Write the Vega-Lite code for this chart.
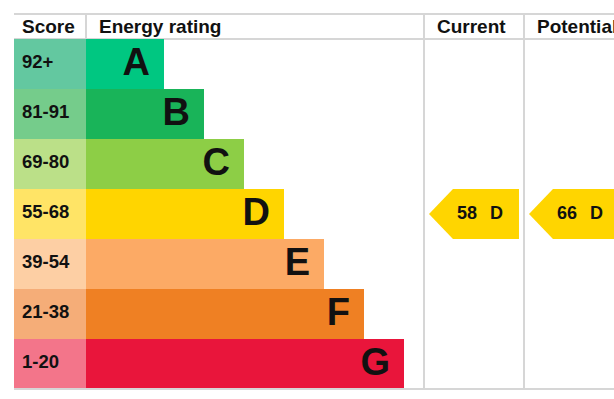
{
  "$schema": "https://vega.github.io/schema/vega-lite/v6.json",
  "autosize": {"type": "pad"},
  "bounds": "flush",
  "padding": {"left": 13, "top": 13, "right": 0, "bottom": 0},
  "background": "white",
  "spacing": 0,
  "config": {
    "view": {"stroke": null},
    "text": {"font": "Liberation Sans", "fontWeight": "bold", "color": "#111111"}
  },
  "datasets": {
    "columns": [
      {"column": "Score", "x0": 0, "x1": 72},
      {"column": "Energy rating", "x0": 72, "x1": 410},
      {"column": "Current", "x0": 410, "x1": 510, "rating": 58, "band": "D"},
      {"column": "Potential", "x0": 510, "x1": 610, "rating": 66, "band": "D"}
    ],
    "bands": [
      {"band": "A", "score": "92+", "start": 0, "split": 72, "end": 150},
      {"band": "B", "score": "81-91", "start": 0, "split": 72, "end": 190},
      {"band": "C", "score": "69-80", "start": 0, "split": 72, "end": 230},
      {"band": "D", "score": "55-68", "start": 0, "split": 72, "end": 270},
      {"band": "E", "score": "39-54", "start": 0, "split": 72, "end": 310},
      {"band": "F", "score": "21-38", "start": 0, "split": 72, "end": 350},
      {"band": "G", "score": "1-20", "start": 0, "split": 72, "end": 390}
    ]
  },
  "vconcat": [
    {
      "width": 600,
      "height": 25,
      "data": {"name": "columns"},
      "layer": [
        {
          "transform": [{"filter": "datum.x0 > 0 && datum.x0 < 600"}],
          "mark": {"type": "rule", "color": "#d6d6d6", "strokeWidth": 2},
          "encoding": {
            "x": {"field": "x0", "type": "quantitative", "scale": {"domain": [0, 600]}, "axis": null}
          }
        },
        {
          "data": {"values": [{"edge": 0, "from": 0, "to": 600}, {"edge": 1, "from": 0, "to": 600}]},
          "mark": {"type": "rule", "color": "#d6d6d6", "strokeWidth": 2},
          "encoding": {
            "x": {"field": "from", "type": "quantitative"},
            "x2": {"field": "to"},
            "y": {"field": "edge", "type": "quantitative", "scale": {"domain": [0, 1]}, "axis": null}
          }
        },
        {
          "transform": [{"filter": "datum.column == 'Score'"}],
          "mark": {"type": "text", "align": "left", "baseline": "middle", "fontSize": 19, "dx": 8, "dy": 0.5},
          "encoding": {
            "x": {"field": "x0", "type": "quantitative"},
            "text": {"field": "column", "type": "nominal"}
          }
        },
        {
          "transform": [{"filter": "datum.x0 > 0"}],
          "mark": {"type": "text", "align": "left", "baseline": "middle", "fontSize": 19, "dx": 13, "dy": 0.5},
          "encoding": {
            "x": {"field": "x0", "type": "quantitative"},
            "text": {"field": "column", "type": "nominal"}
          }
        }
      ]
    },
    {
      "width": 600,
      "height": 350,
      "layer": [
        {
          "data": {"name": "columns"},
          "transform": [{"filter": "datum.x0 >= 410 && datum.x0 < 600"}],
          "mark": {"type": "rule", "color": "#d6d6d6", "strokeWidth": 2},
          "encoding": {
            "x": {"field": "x0", "type": "quantitative", "scale": {"domain": [0, 600]}, "axis": null}
          }
        },
        {
          "data": {"name": "bands"},
          "mark": {"type": "rect"},
          "encoding": {
            "x": {"field": "start", "type": "quantitative"},
            "x2": {"field": "split"},
            "y": {"field": "band", "type": "nominal", "axis": null, "scale": {"domain": ["A", "B", "C", "D", "E", "F", "G"], "paddingInner": 0, "paddingOuter": 0}},
            "color": {"field": "score", "type": "nominal", "legend": null, "scale": {"domain": ["92+", "81-91", "69-80", "55-68", "39-54", "21-38", "1-20"], "range": ["#63c8a0", "#75cc8b", "#bbe088", "#ffe466", "#fdcfa4", "#f5ad78", "#f3758a"]}}
          }
        },
        {
          "data": {"name": "bands"},
          "mark": {"type": "rect"},
          "encoding": {
            "x": {"field": "split", "type": "quantitative"},
            "x2": {"field": "end"},
            "y": {"field": "band", "type": "nominal"},
            "color": {"field": "band", "type": "nominal", "legend": null, "scale": {"domain": ["A", "B", "C", "D", "E", "F", "G"], "range": ["#00c781", "#19b459", "#8dce46", "#ffd500", "#fcaa65", "#ef8023", "#e9153b"]}}
          }
        },
        {
          "data": {"values": [{"edge": "G", "from": 0, "to": 600}]},
          "mark": {"type": "rule", "color": "#d6d6d6", "strokeWidth": 2},
          "encoding": {
            "x": {"field": "from", "type": "quantitative"},
            "x2": {"field": "to"},
            "y": {"field": "edge", "type": "nominal", "bandPosition": 1}
          }
        },
        {
          "data": {"name": "bands"},
          "mark": {"type": "text", "align": "left", "baseline": "middle", "fontSize": 18.5, "dx": 8, "dy": -2.5},
          "encoding": {
            "x": {"field": "start", "type": "quantitative"},
            "y": {"field": "band", "type": "nominal"},
            "text": {"field": "score", "type": "nominal"}
          }
        },
        {
          "data": {"name": "bands"},
          "mark": {"type": "text", "align": "right", "baseline": "middle", "fontSize": 38, "dx": -14},
          "encoding": {
            "x": {"field": "end", "type": "quantitative"},
            "y": {"field": "band", "type": "nominal"},
            "text": {"field": "band", "type": "nominal"}
          }
        },
        {
          "data": {"name": "columns"},
          "transform": [{"filter": "datum.rating > 0"}],
          "mark": {"type": "point", "shape": "M 0.111 0 L 0.644 -0.5556 L 2.111 -0.5556 L 2.111 0.5556 L 0.644 0.5556 Z", "size": 8100, "filled": true, "fill": "#ffd500", "opacity": 1, "strokeWidth": 0},
          "encoding": {
            "x": {"field": "x0", "type": "quantitative"},
            "y": {"field": "band", "type": "nominal"}
          }
        },
        {
          "data": {"name": "columns"},
          "transform": [{"filter": "datum.rating > 0"}],
          "mark": {"type": "text", "align": "left", "baseline": "middle", "fontSize": 18, "dx": 33},
          "encoding": {
            "x": {"field": "x0", "type": "quantitative"},
            "y": {"field": "band", "type": "nominal"},
            "text": {"field": "rating", "type": "quantitative"}
          }
        },
        {
          "data": {"name": "columns"},
          "transform": [{"filter": "datum.rating > 0"}],
          "mark": {"type": "text", "align": "left", "baseline": "middle", "fontSize": 18, "dx": 66},
          "encoding": {
            "x": {"field": "x0", "type": "quantitative"},
            "y": {"field": "band", "type": "nominal"},
            "text": {"field": "band", "type": "nominal"}
          }
        }
      ],
      "resolve": {"scale": {"color": "independent"}}
    }
  ]
}
